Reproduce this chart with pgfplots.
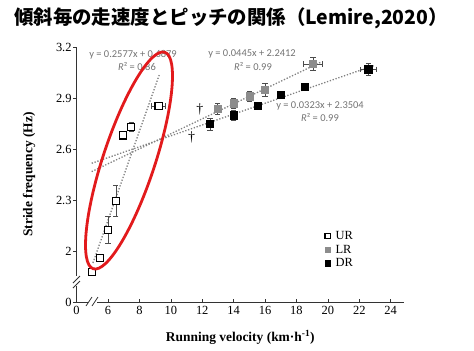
\documentclass[border=0pt]{standalone}
\usepackage{pgfplots}
\usepackage{pgfplotstable}
\pgfplotsset{compat=1.18}
\usepackage{fontspec}
\setmainfont{Liberation Serif}
\newfontfamily\cjk{Noto Sans CJK JP}
\newfontfamily\carlito{Carlito}
\definecolor{ellred}{RGB}{226,26,28}
\pgfplotstableread{
x y ex ey
5.00 1.875 0 0.008
5.51 1.957 0 0.010
6.00 2.125 0 0.080
6.50 2.296 0 0.090
6.97 2.680 0 0.005
7.48 2.731 0 0.025
9.22 2.853 0.45 0.020
}\ur
\pgfplotstableread{
x y ex ey
12.98 2.835 0 0.031
14.01 2.869 0 0.028
15.03 2.910 0 0.030
16.00 2.949 0 0.037
19.06 3.100 0.60 0.040
}\lr
\pgfplotstableread{
x y ex ey
12.49 2.747 0 0.035
14.01 2.798 0 0.030
15.52 2.855 0 0.010
16.98 2.918 0 0.010
18.51 2.967 0 0.010
22.58 3.069 0.50 0.035
}\dr
\begin{document}
\begin{tikzpicture}[x=1bp,y=1bp]
\useasboundingbox (0,0) rectangle (474,350);
\node[font=\cjk\bfseries\fontsize{19.5}{22}\selectfont, anchor=west, inner sep=0pt] at (14,332) {傾斜毎の走速度とピッチの関係（Lemire,2020）};
\begin{axis}[
  at={(76.6bp,48bp)}, anchor=south west, scale only axis,
  width=327.4bp, height=255bp,
  xmin=4, xmax=24.85, ymin=1.7, ymax=3.2,
  axis x line*=bottom, axis y line*=left,
  axis line style={black!80, line width=0.8pt},
  xtick={4,6,8,10,12,14,16,18,20,22,24},
  xticklabels={0,6,8,10,12,14,16,18,20,22,24},
  ytick={1.7,2,2.3,2.6,2.9,3.2},
  yticklabels={0,2,2.3,2.6,2.9,3.2},
  tick align=inside, major tick length=3.5bp,
  tick style={black!80, line width=0.6pt},
  ytick style={xshift=-3.5bp},
  /pgf/number format/assume math mode=true,
  ticklabel style={font=\fontsize{12.5}{13}\selectfont},
  xticklabel style={yshift=-1bp},
  yticklabel style={xshift=-1.5bp},
  xlabel={\textbf{Running velocity (km\textperiodcentered h\textsuperscript{-1})}},
  ylabel={\textbf{Stride frequency (Hz)}},
  label style={font=\fontsize{13.5}{15}\selectfont},
  xlabel style={at={(axis description cs:0.5,-0.14)}, anchor=center},
  ylabel style={at={(axis description cs:-0.145,0.5)}, anchor=center},
  clip=false,
  legend style={draw=none, fill=none, at={(0.755,0.29)}, anchor=north west,
    font=\fontsize{12.5}{13}\selectfont, row sep=0pt, inner sep=1pt,
    /tikz/every odd column/.append style={column sep=3bp}},
  legend cell align=left,
  legend image code/.code={\draw[#1,mark size=2.8bp] plot coordinates {(0.1cm,0cm)};},
  error bars/error bar style={black!70, line width=0.7pt},
  error bars/error mark options={rotate=90, mark size=2.6bp, line width=0.7pt, black!70},
]
% trend lines
\addplot[gray, dash pattern=on 1.3bp off 1.7bp, line width=1.3pt, forget plot] coordinates {(5.04,1.93) (9.26,3.035)};
\addplot[gray, dash pattern=on 1.3bp off 1.7bp, line width=1.3pt, forget plot] coordinates {(4.96,2.467) (19.6,3.113)};
\addplot[gray, dash pattern=on 1.3bp off 1.7bp, line width=1.3pt, forget plot] coordinates {(4.96,2.516) (23.0,3.093)};
% data
\addplot[only marks, mark=square*, mark size=3.6bp, mark options={fill=white, draw=black, line width=1.1pt},
  error bars/.cd, x dir=both, x explicit, y dir=both, y explicit]
  table[x=x, y=y, x error=ex, y error=ey] {\ur};
\addlegendentry{UR}
\addplot[only marks, mark=square*, mark size=3.6bp, mark options={fill=black!45, draw=black!45, line width=0.6pt},
  error bars/.cd, x dir=both, x explicit, y dir=both, y explicit]
  table[x=x, y=y, x error=ex, y error=ey] {\lr};
\addlegendentry{LR}
\addplot[only marks, mark=square*, mark size=3.6bp, mark options={fill=black, draw=black, line width=0.6pt},
  error bars/.cd, x dir=both, x explicit, y dir=both, y explicit]
  table[x=x, y=y, x error=ex, y error=ey] {\dr};
\addlegendentry{DR}
\node[font=\fontsize{14}{14}\selectfont] at (axis cs:11.85,2.834) {\textdagger};
\node[font=\fontsize{14}{14}\selectfont] at (axis cs:11.32,2.67) {\textdagger};
\end{axis}
% equations
\begin{scope}[every node/.style={font=\carlito\fontsize{10.5}{11}\selectfont, text=black!55, inner sep=0pt}]
\node at (133,295) {y = 0.2577x + 0.6879};
\node at (137,283) {\textit{R}² = 0.86};
\node at (252,296) {y = 0.0445x + 2.2412};
\node at (253,283.3) {\textit{R}² = 0.99};
\node at (320,244.3) {y = 0.0323x + 2.3504};
\node at (320,232) {\textit{R}² = 0.99};
\end{scope}
% axis breaks
\fill[white] (74,64) rectangle (81,74);
\draw[black!80, line width=0.8pt] (73,62) -- (80,69);
\draw[black!80, line width=0.8pt] (73,67) -- (80,74);
\fill[white] (88,45) rectangle (97,51);
\draw[black!80, line width=0.8pt] (86,44) -- (92,53);
\draw[black!80, line width=0.8pt] (92,44) -- (98,53);
% ellipse
\draw[ellred, line width=2.8bp, rotate around={71.7:(129,189.5)}] (129,189.5) ellipse [x radius=114bp, y radius=26bp];
\end{tikzpicture}
\end{document}
